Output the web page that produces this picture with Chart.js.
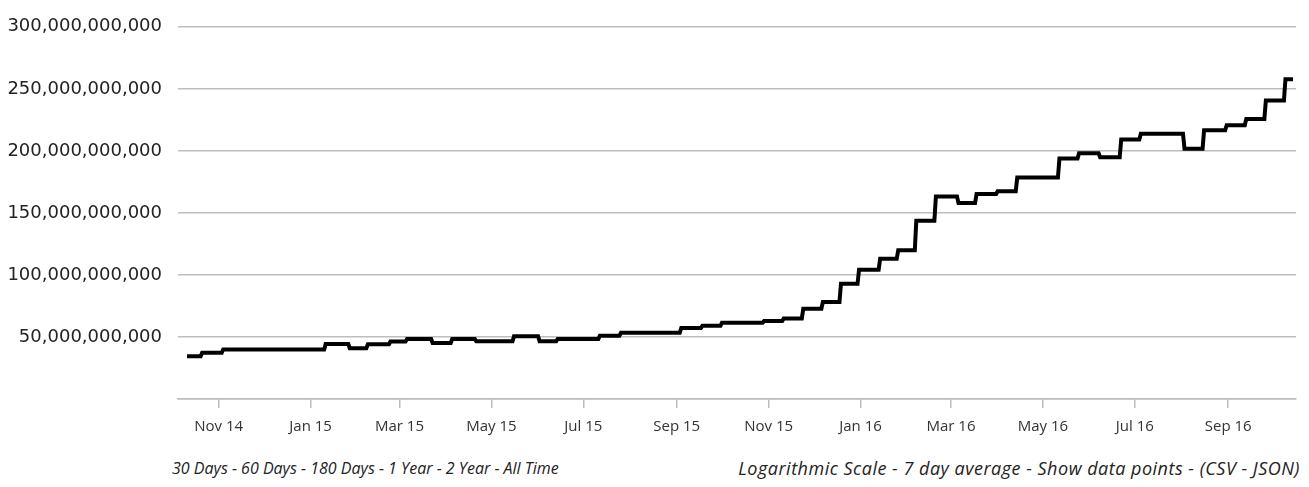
<!DOCTYPE html>
<html>
<head>
<meta charset="utf-8">
<script src="https://cdn.jsdelivr.net/npm/chart.js@4/dist/chart.umd.min.js"></script>
<style>
  body { margin: 0; background: #fff; }
  #wrap { position: relative; width: 1309px; height: 487px; }
  #box { position: absolute; left: 0; top: 0; width: 1309px; height: 440px; }
  .links { position: absolute; font-family: "Open Sans", sans-serif; font-style: italic; color: #222; white-space: nowrap; line-height: 22px; }
  #left { left: 172px; top: 457px; font-size: 16px; }
  #right { right: 9px; top: 457px; font-size: 18px; letter-spacing: 0.5px; }
</style>
</head>
<body>
<div id="wrap">
  <div id="box"><canvas id="chart"></canvas></div>
  <div class="links" id="left">30 Days - 60 Days - 180 Days - 1 Year - 2 Year - All Time</div>
  <div class="links" id="right">Logarithmic Scale - 7 day average - Show data points - (CSV - JSON)</div>
</div>
<script>
// difficulty adjustments (date the new level starts, value in billions)
const stepDates = ['2014-10-11', '2014-10-21', '2014-11-04', '2015-01-11', '2015-01-27', '2015-02-08',
  '2015-02-23', '2015-03-06', '2015-03-23', '2015-04-05', '2015-04-21', '2015-05-16', '2015-06-02',
  '2015-06-14', '2015-07-12', '2015-07-26', '2015-09-04', '2015-09-18', '2015-10-01', '2015-10-29',
  '2015-11-11', '2015-11-24', '2015-12-07', '2015-12-19', '2015-12-31', '2016-01-14', '2016-01-26',
  '2016-02-07', '2016-02-20', '2016-03-06', '2016-03-18', '2016-04-01', '2016-04-14', '2016-05-12',
  '2016-05-25', '2016-06-08', '2016-06-22', '2016-07-05', '2016-08-03', '2016-08-16', '2016-08-31',
  '2016-09-13', '2016-09-26', '2016-10-09'];
const stepValues = [34.5, 37.2, 39.9, 44.4, 40.9, 44.1,
  46.3, 48.4, 45.2, 48.4, 46.5, 50.5, 46.5,
  48.4, 51.0, 53.4, 57.2, 59.0, 61.4, 62.8,
  64.9, 72.8, 78.2, 92.8, 104.2, 113.0, 119.9,
  143.6, 163.3, 157.9, 165.3, 167.5, 178.6, 193.8,
  198.0, 194.8, 209.2, 213.7, 201.8, 216.7, 220.7,
  225.7, 240.6, 257.8];
const lastDate = '2016-10-14';

const axisStart = '2014-10-05';
const axisEnd = '2016-10-16';
const tickDates = ['2014-11-01', '2015-01-01', '2015-03-01', '2015-05-01', '2015-07-01', '2015-09-01',
  '2015-11-01', '2016-01-01', '2016-03-01', '2016-05-01', '2016-07-01', '2016-09-01'];
const tickLabels = ['Nov 14', 'Jan 15', 'Mar 15', 'May 15', 'Jul 15', 'Sep 15',
  'Nov 15', 'Jan 16', 'Mar 16', 'May 16', 'Jul 16', 'Sep 16'];

function dayNum(s) {
  const p = s.split('-');
  return (Date.UTC(+p[0], +p[1] - 1, +p[2]) - Date.UTC(2014, 10, 1)) / 864e5;
}

// each level is held until the day before the next adjustment
let points = [];
for (let i = 0; i < stepDates.length; i++) {
  const start = dayNum(stepDates[i]);
  const end = i + 1 < stepDates.length ? dayNum(stepDates[i + 1]) - 1 : dayNum(lastDate);
  points.push({ x: start, y: stepValues[i] * 1e9 });
  points.push({ x: end, y: stepValues[i] * 1e9 });
}

Chart.defaults.font.family = '"Open Sans", sans-serif';

new Chart(document.getElementById('chart').getContext('2d'), {
  type: 'line',
  data: {
    datasets: [{
      data: points,
      borderColor: '#000',
      borderWidth: 4,
      pointRadius: 0,
      tension: 0,
      fill: false
    }]
  },
  options: {
    responsive: true,
    maintainAspectRatio: false,
    animation: false,
    layout: { padding: { top: 22, right: 13, left: 0, bottom: 0 } },
    plugins: { legend: { display: false }, tooltip: { enabled: false } },
    scales: {
      x: {
        type: 'linear',
        min: dayNum(axisStart),
        max: dayNum(axisEnd),
        afterBuildTicks: function (s) {
          s.ticks = tickDates.map(d => ({ value: dayNum(d) }));
        },
        afterFit: function (s) { s.height = 41; },
        grid: { drawOnChartArea: false, drawTicks: true, tickLength: 9, color: '#bdbdbd', lineWidth: 1.5 },
        border: { display: true, color: '#bdbdbd', width: 1.5 },
        ticks: {
          autoSkip: false,
          maxRotation: 0,
          padding: 10,
          color: '#333',
          font: { size: 15 },
          callback: function (v, i) { return tickLabels[i]; }
        }
      },
      y: {
        min: 0,
        max: 300e9,
        afterFit: function (s) { s.width = 178; },
        grid: { drawTicks: false, color: '#bdbdbd', lineWidth: 1.5 },
        border: { display: false },
        ticks: {
          stepSize: 50e9,
          padding: 16,
          color: '#222',
          font: { family: '"DejaVu Sans", sans-serif', size: 18 },
          callback: function (v) { return v === 0 ? '' : v.toLocaleString('en-US'); }
        }
      }
    }
  }
});
</script>
</body>
</html>
